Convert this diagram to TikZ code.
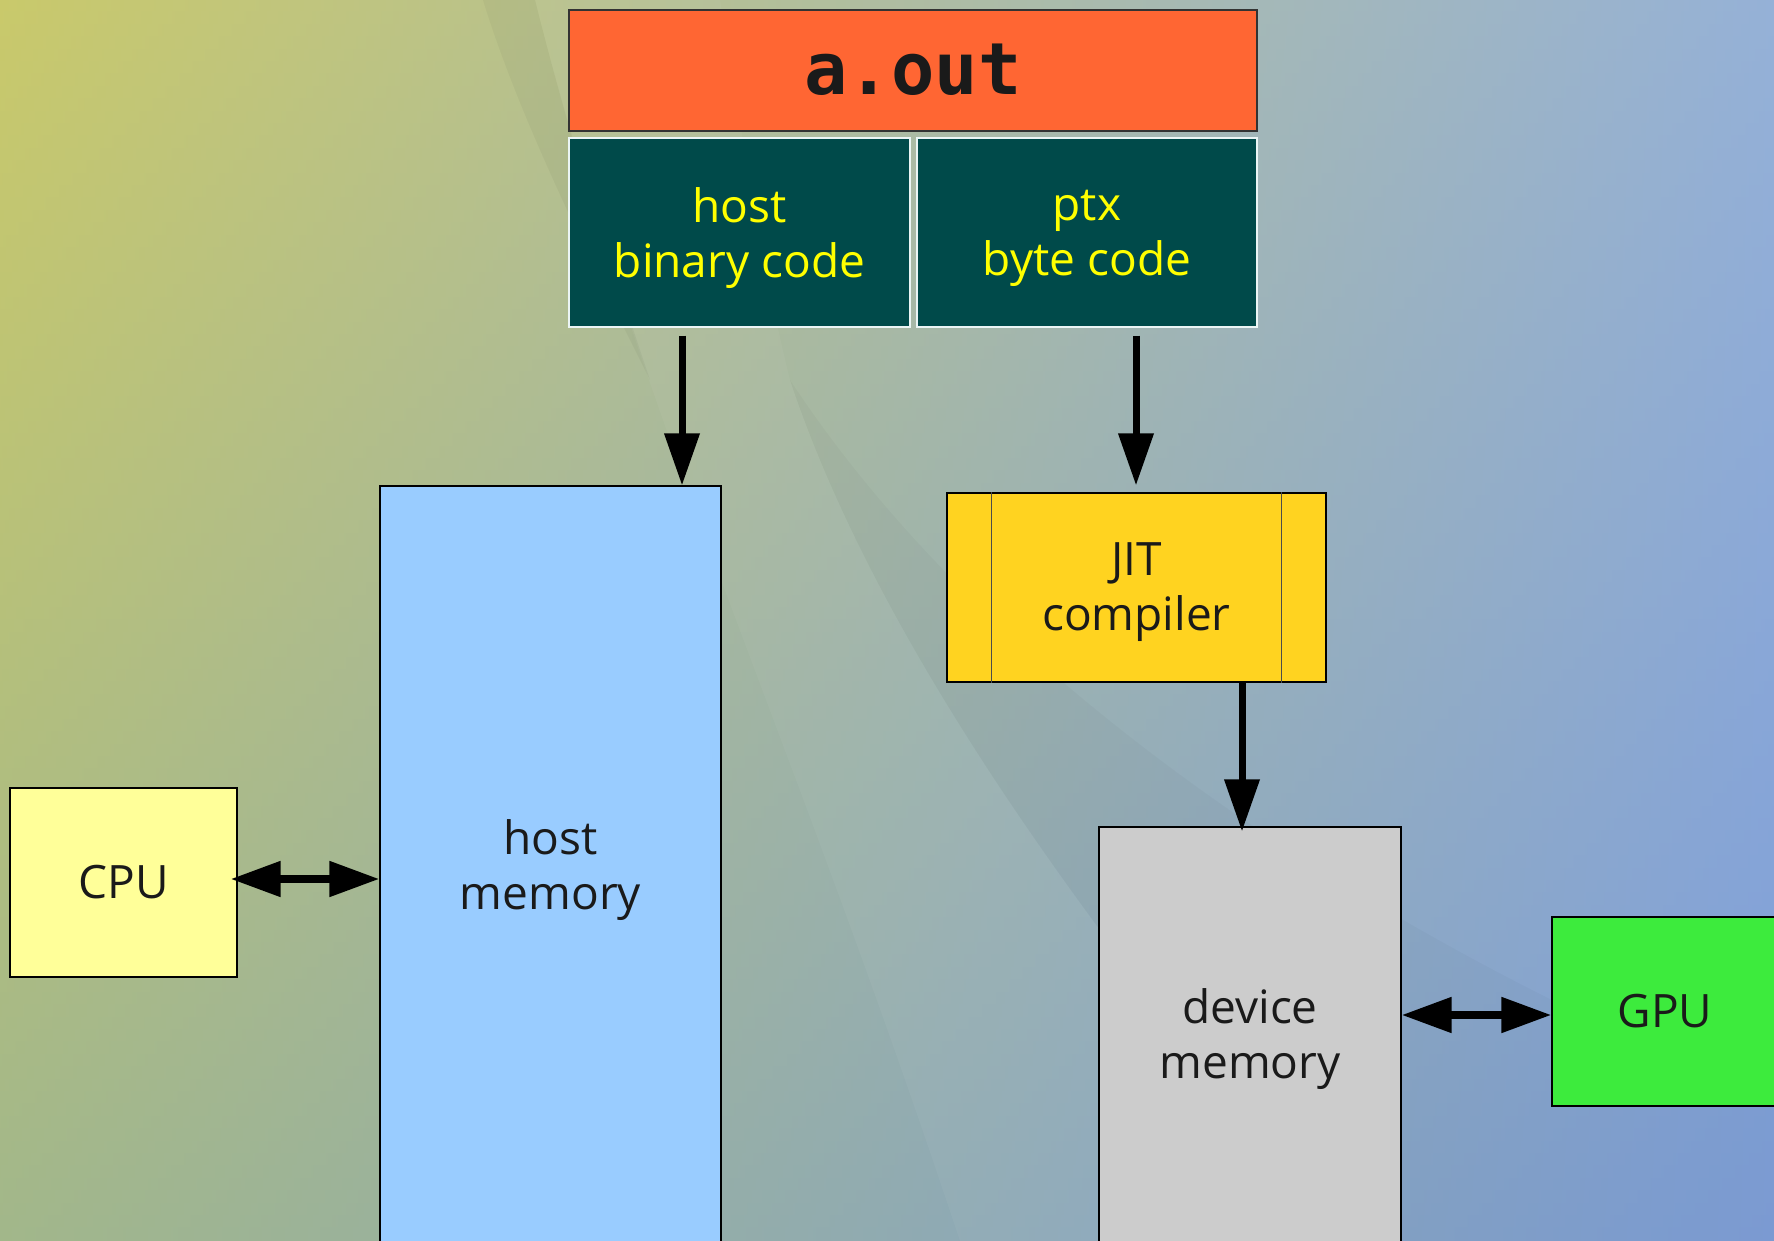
\documentclass[tikz,border=0pt]{standalone}
\usepackage{fontspec}
\setmainfont{Open Sans}
\newfontfamily\codefont{DejaVu Sans Mono}
\usetikzlibrary{arrows.meta}

\definecolor{bgTL}{HTML}{C9C96B}
\definecolor{bgTR}{HTML}{95B1D7}
\definecolor{bgBL}{HTML}{A2B78A}
\definecolor{bgBR}{HTML}{7E9ED8}
\definecolor{aoutfill}{HTML}{FF6633}
\definecolor{tealfill}{HTML}{004A4A}
\definecolor{codeyellow}{HTML}{FFFF00}
\definecolor{hostmemfill}{HTML}{99CCFF}
\definecolor{jitfill}{HTML}{FFD320}
\definecolor{devmemfill}{HTML}{CCCCCC}
\definecolor{cpufill}{HTML}{FFFF99}
\definecolor{gpufill}{HTML}{3DEB3D}
\definecolor{inkdark}{HTML}{1A1A1A}

\tikzset{
  box/.style={draw=black, line width=0.6pt, inner sep=0pt, align=center,
    text=inkdark, font=\fontsize{23}{27.5}\selectfont},
  codebox/.style={draw=white!92!teal, line width=0.7pt, fill=tealfill, inner sep=0pt,
    minimum height=94.5pt},
  boxlabel/.style={inner sep=0pt, align=center, font=\fontsize{23}{27.5}\selectfont},
  flow/.style={line width=3.5pt, -{Triangle[length=26pt,width=17pt]}},
  link/.style={line width=4pt,
    {Triangle[length=25pt,width=17pt]}-{Triangle[length=25pt,width=17pt]}}
}

\begin{document}
\begin{tikzpicture}[x=0.5pt,y=-0.5pt]
\useasboundingbox (0,0) rectangle (1774,1241);
\clip (0,0) rectangle (1774,1241);

% backdrop: corner colours blended row by row
\foreach \i in {0,...,99} {
  \pgfmathtruncatemacro\pc{round(\i*100/99)}
  \colorlet{rowL}{bgBL!\pc!bgTL}
  \colorlet{rowR}{bgBR!\pc!bgTR}
  \fill[left color=rowL, right color=rowR]
    (0,{\i*12.41-0.6}) rectangle (1774,{(\i+1)*12.41+0.6});
}
% soft swooshes in the backdrop
\fill[black, opacity=0.035] (483,0) -- (535,0) .. controls (570,140) and (610,260) .. (650,380)
  .. controls (590,260) and (520,120) .. (483,0) -- cycle;
\fill[white, opacity=0.04] (535,0) .. controls (640,420) and (780,700) .. (960,1241)
  -- (1350,1241) .. controls (1100,950) and (880,650) .. (790,380)
  .. controls (760,260) and (740,120) .. (720,0) -- cycle;
\fill[black, opacity=0.025] (790,380) .. controls (880,650) and (1100,950) .. (1350,1241)
  -- (1774,1241) -- (1774,1100) .. controls (1400,950) and (1000,700) .. (790,380) -- cycle;

% executable and its two sections
\node[draw=black!80, line width=0.8pt, fill=aoutfill, minimum width=344pt, minimum height=60.5pt,
  inner sep=0pt] (aout) at (913,70.5) {};
\node[anchor=base, inner sep=0pt, text=inkdark,
  font=\codefont\bfseries\fontsize{36}{40}\selectfont] (aouttext) at (913,95) {a.out};
\node[codebox, minimum width=170.5pt] (hostbin) at (739.5,232.5) {};
\node[boxlabel, text=codeyellow] (hostbintext) at ([yshift=-3pt]hostbin.center) {host\\binary code};
\node[codebox, minimum width=170pt] (ptx) at (1087,232.5) {};
\node[boxlabel, text=codeyellow] (ptxtext) at ([yshift=-3pt]ptx.center) {ptx\\byte code};

% memories and processors
\node[box, fill=hostmemfill, minimum width=170.5pt, minimum height=384pt] (hostmem)
  at (550.5,870) {host\\memory};
\node[box, fill=jitfill, minimum width=189.5pt, minimum height=94.5pt] (jit)
  at (1136.5,587.5) {};
\draw[line width=0.6pt, black!70] ([xshift=22.5pt]jit.north west) -- ([xshift=22.5pt]jit.south west);
\draw[line width=0.6pt, black!70] ([xshift=-22.5pt]jit.north east) -- ([xshift=-22.5pt]jit.south east);
\node[boxlabel, text=inkdark] (jittext) at ([yshift=-2.5pt]jit.center) {JIT\\compiler};
\node[box, fill=devmemfill, minimum width=151pt, minimum height=212pt] (devmem)
  at (1250,1039) {device\\memory};
\node[box, fill=cpufill, minimum width=113.5pt, minimum height=94.5pt] (cpu)
  at (123.5,882.5) {CPU};
\node[box, fill=gpufill, minimum width=113pt, minimum height=94.5pt] (gpu)
  at (1665,1011.5) {GPU};

% connectors
\draw[flow] ([xshift=-28.75pt,yshift=-4pt]hostbin.south)
  -- ([xshift=-28.75pt]hostbin.south |- hostmem.north);
\draw[flow] ([xshift=24.5pt,yshift=-4pt]ptx.south)
  -- ([xshift=24.5pt,yshift=3.5pt]ptx.south |- jit.north);
\draw[flow] ([xshift=52.75pt]jit.south)
  -- ([xshift=52.75pt,yshift=-2.5pt]jit.south |- devmem.north);
\draw[link] ([xshift=-3.5pt,yshift=1.75pt]cpu.east)
  -- ([yshift=1.75pt]cpu.east -| hostmem.west);
\draw[link] ([yshift=-1.75pt]gpu.west -| devmem.east) -- ([yshift=-1.75pt]gpu.west);
\end{tikzpicture}
\end{document}
